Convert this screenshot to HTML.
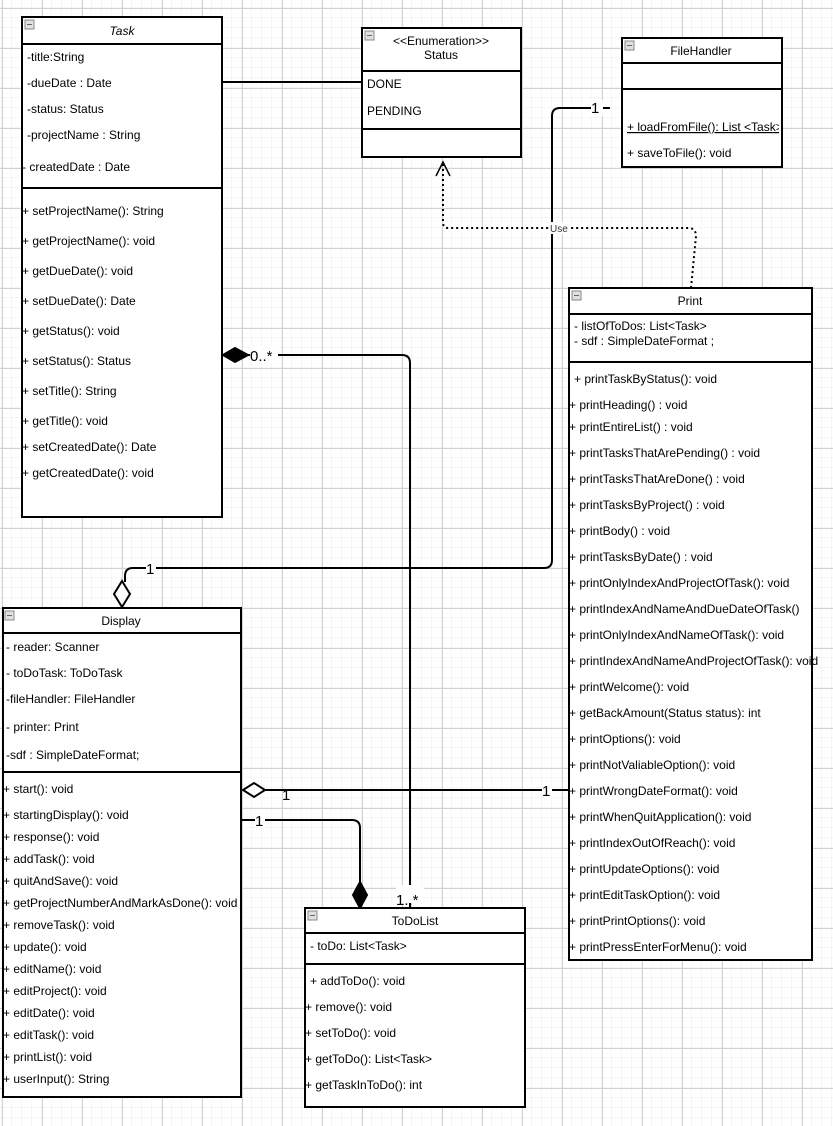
<!DOCTYPE html>
<html><head><meta charset="utf-8"><style>
html,body{margin:0;padding:0;background:#fff}
svg{display:block}
text{font-family:"Liberation Sans",Arial,sans-serif;font-size:12px;fill:#000}
</style></head><body>
<svg width="833" height="1126" viewBox="0 0 833 1126" xmlns="http://www.w3.org/2000/svg">
<defs>
<pattern id="minor" x="2" y="8" width="10" height="10" patternUnits="userSpaceOnUse">
<path d="M10 0V10M0 10H10" fill="none" stroke="#ececec" stroke-width="1"/>
</pattern>
<pattern id="major" x="2" y="8" width="40" height="40" patternUnits="userSpaceOnUse">
<path d="M0.5 0V40M0 0.5H40" fill="none" stroke="#d2d2d2" stroke-width="1"/>
</pattern>
<g id="mini"><rect x="0" y="0" width="9" height="9" fill="#e0e0e0" stroke="#888" stroke-width="1"/><line x1="2" y1="4.5" x2="7" y2="4.5" stroke="#666"/></g>
</defs>
<rect width="833" height="1126" fill="url(#minor)"/>
<rect width="833" height="1126" fill="url(#major)"/>

<!-- connectors -->
<g fill="none" stroke="#000" stroke-width="2">
<line x1="222" y1="82" x2="362" y2="82"/>
<path d="M610 108H560Q552 108 552 116V560Q552 568 544 568H133Q125 568 125 576V582"/>
<path d="M248 355H402Q410 355 410 363V908"/>
<line x1="265" y1="790" x2="569" y2="790"/>
<path d="M241 820H352Q360 820 360 828V882"/>
</g>
<path d="M691 288L696 236Q696 228 688 228H448Q443 228 443 222V162" fill="none" stroke="#000" stroke-width="2" stroke-dasharray="2,3"/>
<path d="M436 176L443 162L450 176" fill="none" stroke="#000" stroke-width="1.5"/>
<path d="M122 581L130 594L122 607L114 594Z" fill="#fff" stroke="#000" stroke-width="2"/>
<path d="M223 355L235 348L248 355L235 362Z" fill="#000" stroke="#000" stroke-width="2"/>
<path d="M243 790L254 783L265 790L254 797Z" fill="#fff" stroke="#000" stroke-width="2"/>
<path d="M360 882L367 895L360 908L353 895Z" fill="#000" stroke="#000" stroke-width="2"/>
<g>
<rect x="591" y="100" width="12" height="16" fill="#fff"/><text x="591" y="113" font-size="15" style="font-size:15px">1</text>
<rect x="146" y="561" width="10" height="14" fill="#fff"/><text x="146" y="574" style="font-size:15px">1</text>
<rect x="250" y="346" width="28" height="16" fill="#fff"/><text x="250" y="361" style="font-size:15px">0..*</text>
<rect x="396" y="885" width="28" height="18" fill="#fff"/><text x="396" y="905" style="font-size:15px">1..*</text>
<text x="282" y="800" style="font-size:15px">1</text>
<rect x="542" y="782" width="10" height="16" fill="#fff"/><text x="542" y="796" style="font-size:15px">1</text>
<rect x="255" y="812" width="10" height="16" fill="#fff"/><text x="255" y="826" style="font-size:15px">1</text>
<rect x="550" y="222" width="20" height="12" fill="#fff"/><text x="550" y="232" style="font-size:10px;fill:#333">Use</text>
</g>

<!-- Task -->
<g>
<rect x="22" y="17" width="200" height="500" fill="#fff" stroke="#000" stroke-width="2"/>
<line x1="22" y1="44" x2="222" y2="44" stroke="#000" stroke-width="2"/>
<line x1="22" y1="188" x2="222" y2="188" stroke="#000" stroke-width="2"/>
<use href="#mini" x="25" y="20"/>
<text x="122" y="35" text-anchor="middle" font-style="italic">Task</text>
<text x="27" y="61">-title:String</text>
<text x="27" y="87">-dueDate : Date</text>
<text x="27" y="113">-status: Status</text>
<text x="27" y="139">-projectName : String</text>
<text x="22" y="171">- createdDate : Date</text>
<text x="22" y="215">+ setProjectName(): String</text>
<text x="22" y="245">+ getProjectName(): void</text>
<text x="22" y="275">+ getDueDate(): void</text>
<text x="22" y="305">+ setDueDate(): Date</text>
<text x="22" y="335">+ getStatus(): void</text>
<text x="22" y="365">+ setStatus(): Status</text>
<text x="22" y="395">+ setTitle(): String</text>
<text x="22" y="425">+ getTitle(): void</text>
<text x="22" y="451">+ setCreatedDate(): Date</text>
<text x="22" y="477">+ getCreatedDate(): void</text>
</g>

<!-- Status -->
<g>
<rect x="362" y="28" width="159" height="129" fill="#fff" stroke="#000" stroke-width="2"/>
<line x1="362" y1="71" x2="521" y2="71" stroke="#000" stroke-width="2"/>
<line x1="362" y1="129" x2="521" y2="129" stroke="#000" stroke-width="2"/>
<use href="#mini" x="365" y="31"/>
<text x="441" y="45" text-anchor="middle">&lt;&lt;Enumeration&gt;&gt;</text>
<text x="441" y="59" text-anchor="middle">Status</text>
<text x="367" y="88">DONE</text>
<text x="367" y="115">PENDING</text>
</g>

<!-- FileHandler -->
<g>
<rect x="622" y="38" width="160" height="129" fill="#fff" stroke="#000" stroke-width="2"/>
<line x1="622" y1="63" x2="782" y2="63" stroke="#000" stroke-width="2"/>
<line x1="622" y1="89" x2="782" y2="89" stroke="#000" stroke-width="2"/>
<use href="#mini" x="625" y="41"/>
<text x="701" y="55" text-anchor="middle">FileHandler</text>
<text x="627" y="131" text-decoration="underline">+ loadFromFile(): List &lt;Task&gt;</text>
<rect x="779" y="118" width="2" height="16" fill="#fff"/>
<text x="627" y="157">+ saveToFile(): void</text>
</g>

<!-- Print -->
<g>
<rect x="569" y="288" width="243" height="672" fill="#fff" stroke="#000" stroke-width="2"/>
<line x1="569" y1="314" x2="812" y2="314" stroke="#000" stroke-width="2"/>
<line x1="569" y1="362" x2="812" y2="362" stroke="#000" stroke-width="2"/>
<use href="#mini" x="572" y="291"/>
<text x="690" y="305" text-anchor="middle">Print</text>
<text x="574" y="330">- listOfToDos: List&lt;Task&gt;</text>
<text x="574" y="345">- sdf : SimpleDateFormat ;</text>
<text x="574" y="383">+ printTaskByStatus(): void</text>
<text x="569" y="409">+ printHeading() : void</text>
<text x="569" y="431">+ printEntireList() : void</text>
<text x="569" y="457">+ printTasksThatArePending() : void</text>
<text x="569" y="483">+ printTasksThatAreDone() : void</text>
<text x="569" y="509">+ printTasksByProject() : void</text>
<text x="569" y="535">+ printBody() : void</text>
<text x="569" y="561">+ printTasksByDate() : void</text>
<text x="569" y="587">+ printOnlyIndexAndProjectOfTask(): void</text>
<text x="569" y="613">+ printIndexAndNameAndDueDateOfTask()</text>
<text x="569" y="639">+ printOnlyIndexAndNameOfTask(): void</text>
<text x="569" y="665">+ printIndexAndNameAndProjectOfTask(): void</text>
<text x="569" y="691">+ printWelcome(): void</text>
<text x="569" y="717">+ getBackAmount(Status status): int</text>
<text x="569" y="743">+ printOptions(): void</text>
<text x="569" y="769">+ printNotValiableOption(): void</text>
<text x="569" y="795">+ printWrongDateFormat(): void</text>
<text x="569" y="821">+ printWhenQuitApplication(): void</text>
<text x="569" y="847">+ printIndexOutOfReach(): void</text>
<text x="569" y="873">+ printUpdateOptions(): void</text>
<text x="569" y="899">+ printEditTaskOption(): void</text>
<text x="569" y="925">+ printPrintOptions(): void</text>
<text x="569" y="951">+ printPressEnterForMenu(): void</text>
</g>

<!-- Display -->
<g>
<rect x="3" y="608" width="238" height="489" fill="#fff" stroke="#000" stroke-width="2"/>
<line x1="3" y1="633" x2="241" y2="633" stroke="#000" stroke-width="2"/>
<line x1="3" y1="772" x2="241" y2="772" stroke="#000" stroke-width="2"/>
<use href="#mini" x="5" y="611"/>
<text x="121" y="625" text-anchor="middle">Display</text>
<text x="6" y="651">- reader: Scanner</text>
<text x="6" y="677">- toDoTask: ToDoTask</text>
<text x="6" y="703">-fileHandler: FileHandler</text>
<text x="6" y="731">- printer: Print</text>
<text x="6" y="759">-sdf : SimpleDateFormat;</text>
<text x="3" y="793">+ start(): void</text>
<text x="3" y="819">+ startingDisplay(): void</text>
<text x="3" y="841">+ response(): void</text>
<text x="3" y="863">+ addTask(): void</text>
<text x="3" y="885">+ quitAndSave(): void</text>
<text x="3" y="907">+ getProjectNumberAndMarkAsDone(): void</text>
<text x="3" y="929">+ removeTask(): void</text>
<text x="3" y="951">+ update(): void</text>
<text x="3" y="973">+ editName(): void</text>
<text x="3" y="995">+ editProject(): void</text>
<text x="3" y="1017">+ editDate(): void</text>
<text x="3" y="1039">+ editTask(): void</text>
<text x="3" y="1061">+ printList(): void</text>
<text x="3" y="1083">+ userInput(): String</text>
</g>

<!-- ToDoList -->
<g>
<rect x="305" y="908" width="220" height="199" fill="#fff" stroke="#000" stroke-width="2"/>
<line x1="305" y1="933" x2="525" y2="933" stroke="#000" stroke-width="2"/>
<line x1="305" y1="964" x2="525" y2="964" stroke="#000" stroke-width="2"/>
<use href="#mini" x="308" y="911"/>
<text x="415" y="925" text-anchor="middle">ToDoList</text>
<text x="310" y="950">- toDo: List&lt;Task&gt;</text>
<text x="310" y="985">+ addToDo(): void</text>
<text x="305" y="1011">+ remove(): void</text>
<text x="305" y="1037">+ setToDo(): void</text>
<text x="305" y="1063">+ getToDo(): List&lt;Task&gt;</text>
<text x="305" y="1089">+ getTaskInToDo(): int</text>
</g>
</svg>
</body></html>
